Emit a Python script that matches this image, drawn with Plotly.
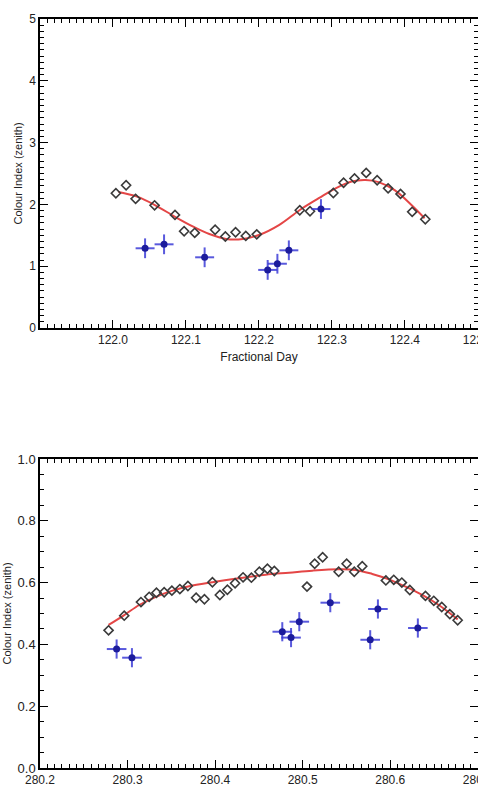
import plotly.graph_objects as go

# ---------------- Top panel data (day 122) ----------------
top_diamond_x = [122.004, 122.018, 122.031, 122.057, 122.085, 122.0975, 122.112, 122.140,
                 122.154, 122.168, 122.182, 122.197, 122.256, 122.270, 122.302, 122.316,
                 122.331, 122.347, 122.362, 122.377, 122.394, 122.410, 122.428]
top_diamond_y = [2.18, 2.31, 2.09, 1.985, 1.83, 1.565, 1.54, 1.59,
                 1.48, 1.55, 1.49, 1.515, 1.905, 1.89, 2.185, 2.35,
                 2.42, 2.51, 2.39, 2.26, 2.17, 1.88, 1.76]

top_blue_x = [122.044, 122.070, 122.1256, 122.212, 122.2253, 122.241, 122.285]
top_blue_y = [1.29, 1.354, 1.144, 0.94, 1.04, 1.257, 1.925]
top_blue_xerr = [0.013] * 7
top_blue_yerr = [0.16] * 7

top_fit_x = [122.0076, 122.033, 122.0575, 122.085, 122.110, 122.132, 122.155, 122.178,
             122.200, 122.228, 122.256, 122.282, 122.305, 122.327, 122.346, 122.364,
             122.386, 122.409, 122.427]
top_fit_y = [2.20, 2.125, 1.99, 1.80, 1.64, 1.52, 1.44, 1.44,
             1.505, 1.67, 1.91, 2.10, 2.26, 2.37, 2.395, 2.36,
             2.23, 1.99, 1.775]

top_xticks = [122.0, 122.1, 122.2, 122.3, 122.4, 122.5]
top_xticklabels = ["122.0", "122.1", "122.2", "122.3", "122.4", "122.5"]
top_yticks = [0, 1, 2, 3, 4, 5]
top_yticklabels = ["0", "1", "2", "3", "4", "5"]

# ---------------- Bottom panel data (day 280) ----------------
bot_diamond_x = [280.2783, 280.2962, 280.3153, 280.3247, 280.333, 280.3418, 280.3506, 280.3597,
                 280.3689, 280.3783, 280.3878, 280.3969, 280.4054, 280.414, 280.4228, 280.4319,
                 280.4414, 280.4505, 280.4597, 280.4676, 280.5049, 280.5137, 280.5228, 280.5411,
                 280.5502, 280.5589, 280.568, 280.595, 280.604, 280.6132, 280.6223, 280.6402,
                 280.6497, 280.6588, 280.668, 280.677]
bot_diamond_y = [0.4456, 0.493, 0.537, 0.554, 0.567, 0.5686, 0.574, 0.579,
                 0.589, 0.551, 0.546, 0.601, 0.560, 0.577, 0.598, 0.617,
                 0.616, 0.635, 0.645, 0.6375, 0.587, 0.661, 0.682, 0.635,
                 0.661, 0.635, 0.653, 0.607, 0.609, 0.600, 0.576, 0.557,
                 0.541, 0.521, 0.498, 0.478]

bot_blue_x = [280.2875, 280.305, 280.4767, 280.4867, 280.4961, 280.5315, 280.5771, 280.5859, 280.6315]
bot_blue_y = [0.385, 0.357, 0.441, 0.422, 0.4735, 0.535, 0.415, 0.5146, 0.453]
bot_blue_xerr = [0.0112] * 9
bot_blue_yerr = [0.031] * 9

bot_fit_x = [280.2783, 280.2962, 280.3133, 280.3324, 280.3513, 280.3703, 280.397, 280.4274,
             280.4578, 280.4844, 280.511, 280.5414, 280.5604, 280.5794, 280.5984, 280.6175,
             280.6364, 280.6554, 280.677]
bot_fit_y = [0.463, 0.495, 0.5275, 0.554, 0.574, 0.588, 0.601, 0.614,
             0.6256, 0.632, 0.6386, 0.643, 0.641, 0.628, 0.6106, 0.5868,
             0.560, 0.5275, 0.481]

bot_xticks = [280.2, 280.3, 280.4, 280.5, 280.6, 280.7]
bot_xticklabels = ["280.2", "280.3", "280.4", "280.5", "280.6", "280.7"]
bot_yticks = [0.0, 0.2, 0.4, 0.6, 0.8, 1.0]
bot_yticklabels = ["0.0", "0.2", "0.4", "0.6", "0.8", "1.0"]

# ---------------- Styles ----------------
W, H = 478, 785
FONT = "Liberation Sans, Arial, sans-serif"
TXT = "#222222"
DIAMOND_COLOR = "#3a3a3a"
BLUE_PT = "#1c1c9c"
BLUE_BAR = "rgba(60,60,215,0.85)"
RED = "#e44646"

fig = go.Figure()

def add_panel(xa, ya, dx, dy, bx, by, bxe, bye, fx, fy):
    fig.add_trace(go.Scatter(
        x=fx, y=fy, mode="lines", line=dict(color=RED, width=2, shape="spline", smoothing=1.0),
        xaxis=xa, yaxis=ya, showlegend=False, hoverinfo="skip"))
    fig.add_trace(go.Scatter(
        x=dx, y=dy, mode="markers",
        marker=dict(symbol="diamond-open", size=7, color=DIAMOND_COLOR, line=dict(width=1.6, color=DIAMOND_COLOR)),
        xaxis=xa, yaxis=ya, showlegend=False))
    fig.add_trace(go.Scatter(
        x=bx, y=by, mode="markers",
        marker=dict(symbol="circle", size=7, color=BLUE_PT),
        error_x=dict(type="data", array=bxe, visible=True, color=BLUE_BAR, thickness=2, width=0),
        error_y=dict(type="data", array=bye, visible=True, color=BLUE_BAR, thickness=2, width=0),
        xaxis=xa, yaxis=ya, showlegend=False))

add_panel("x", "y", top_diamond_x, top_diamond_y, top_blue_x, top_blue_y,
          top_blue_xerr, top_blue_yerr, top_fit_x, top_fit_y)
add_panel("x2", "y2", bot_diamond_x, bot_diamond_y, bot_blue_x, bot_blue_y,
          bot_blue_xerr, bot_blue_yerr, bot_fit_x, bot_fit_y)

# panel placement (pixels -> paper)
left_px, right_px = 40, 478
top1, bot1 = 19, 328
top2, bot2 = 459, 768

def py(p):
    return 1 - p / H

common_axis = dict(
    showgrid=False, zeroline=False, showline=True, linecolor="black", linewidth=1.5,
    mirror="allticks", ticks="inside", ticklen=8, tickwidth=1.2, tickcolor="black",
    tickfont=dict(family=FONT, size=12, color=TXT), automargin=False,
    ticklabeloverflow="allow",
)

fig.update_layout(
    width=W, height=H,
    margin=dict(l=0, r=0, t=0, b=0),
    paper_bgcolor="white", plot_bgcolor="white",
    showlegend=False,
    xaxis=dict(**common_axis, domain=[left_px / W, right_px / W], anchor="y",
               range=[121.9, 122.5002], tickmode="array", tickvals=top_xticks, ticktext=top_xticklabels,
               minor=dict(dtick=0.01, tick0=121.9, ticks="inside", ticklen=4, tickcolor="black", tickwidth=1),
               title=dict(text="Fractional Day", font=dict(family=FONT, size=12, color=TXT), standoff=6)),
    yaxis=dict(**common_axis, domain=[py(bot1), py(top1)], anchor="x",
               range=[0, 5], tickmode="array", tickvals=top_yticks, ticktext=top_yticklabels,
               minor=dict(dtick=0.1, tick0=0, ticks="inside", ticklen=4, tickcolor="black", tickwidth=1),
               title=dict(text="Colour Index (zenith)", font=dict(family=FONT, size=11, color=TXT), standoff=4)),
    xaxis2=dict(**common_axis, domain=[left_px / W, right_px / W], anchor="y2",
                range=[280.2, 280.7002], tickmode="array", tickvals=bot_xticks, ticktext=bot_xticklabels,
                minor=dict(dtick=0.1 / 12, tick0=280.2, ticks="inside", ticklen=4, tickcolor="black", tickwidth=1)),
    yaxis2=dict(**common_axis, domain=[py(bot2), py(top2)], anchor="x2",
                range=[0, 1.0], tickmode="array", tickvals=bot_yticks, ticktext=bot_yticklabels,
                minor=dict(dtick=0.05, tick0=0, ticks="inside", ticklen=4, tickcolor="black", tickwidth=1),
                title=dict(text="Colour Index (zenith)", font=dict(family=FONT, size=11, color=TXT), standoff=4)),
)
fig.update_yaxes(tickfont=dict(family=FONT, size=13, color=TXT), selector=dict(anchor="x2"))

fig.write_html("out.html")
